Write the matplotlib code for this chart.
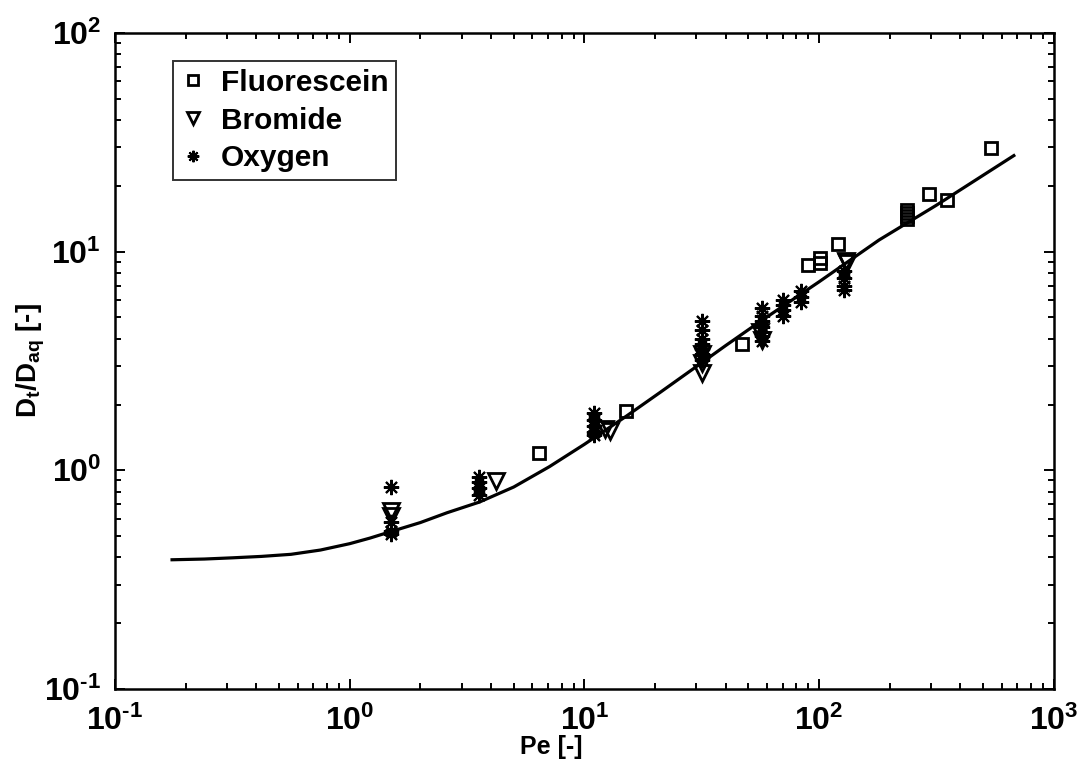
import matplotlib
matplotlib.use("Agg")
import matplotlib.pyplot as plt

plt.rcParams['font.family'] = ['Liberation Sans', 'DejaVu Sans']
plt.rcParams['font.weight'] = 'bold'
plt.rcParams['mathtext.fontset'] = 'custom'
plt.rcParams['mathtext.rm'] = 'Liberation Sans:bold'
plt.rcParams['mathtext.it'] = 'Liberation Sans:bold'
plt.rcParams['mathtext.bf'] = 'Liberation Sans:bold'

fluo_pe = [6.4, 15.1, 47, 90, 101, 101, 121, 237, 237, 237, 237, 294, 351, 539]
fluo_d = [1.2, 1.87, 3.78, 8.7, 9.4, 8.9, 10.8, 14.1, 14.6, 15.1, 15.5, 18.3, 17.3, 29.7]

brom_pe = [1.5, 1.5, 4.2, 12.3, 12.8, 31.8, 31.8, 31.8, 56, 57, 130, 132]
brom_d = [0.65, 0.62, 0.89, 1.55, 1.51, 2.8, 3.1, 3.4, 4.3, 3.95, 9.1, 8.9]

oxy_pe = [1.5, 1.5, 1.5, 1.5,
          3.57, 3.57, 3.57, 3.57,
          11, 11, 11, 11, 11,
          31.8, 31.8, 31.8, 31.8, 31.8, 31.8, 31.8,
          57, 57, 57, 57, 57, 57, 57,
          70, 70, 70, 70,
          84, 84, 84,
          128, 128, 128, 128]
oxy_d = [0.84, 0.58, 0.53, 0.51,
         0.93, 0.88, 0.83, 0.77,
         1.82, 1.70, 1.60, 1.50, 1.45,
         4.8, 4.4, 4.0, 3.8, 3.6, 3.4, 3.2,
         5.5, 5.1, 4.8, 4.5, 4.3, 4.1, 3.9,
         6.0, 5.7, 5.4, 5.1,
         6.6, 6.2, 5.9,
         8.2, 7.6, 7.0, 6.7]

# model curve, points
curve_pe = [0.175, 0.24, 0.316, 0.42, 0.562, 0.75, 1.0, 1.22, 1.5, 2.0, 2.6, 3.57, 5.0, 7.1, 10,
            15.1, 21, 28.8, 40, 55.6, 100, 180, 316, 676]
curve_d = [0.390, 0.393, 0.398, 0.404, 0.413, 0.432, 0.462, 0.49, 0.525, 0.577, 0.64, 0.716, 0.839,
           1.04, 1.315, 1.77, 2.27, 2.89, 3.72, 4.76, 7.28, 11.3, 16.3, 27.5]

x_ticks = [0.1, 1, 10, 100, 1000]
x_labels = [r'$\mathrm{10^{\text{-}1}}$', r'$\mathrm{10^{0}}$', r'$\mathrm{10^{1}}$',
            r'$\mathrm{10^{2}}$', r'$\mathrm{10^{3}}$']
y_ticks = [0.1, 1, 10, 100]
y_labels = [r'$\mathrm{10^{\text{-}1}}$', r'$\mathrm{10^{0}}$', r'$\mathrm{10^{1}}$',
            r'$\mathrm{10^{2}}$']

fig = plt.figure(figsize=(10.79, 7.6), dpi=100)
ax = fig.add_axes([0.1066, 0.0934, 0.870, 0.8632])

ax.plot(curve_pe, curve_d, color='black', lw=2.3, zorder=2)
ax.plot(fluo_pe, fluo_d, ls='none', marker='s', ms=9, mfc='none', mec='black', mew=2,
        label='Fluorescein', zorder=3)
ax.plot(brom_pe, brom_d, ls='none', marker='v', ms=12, mfc='none', mec='black', mew=2,
        label='Bromide', zorder=3)
ax.plot(oxy_pe, oxy_d, ls='none', marker=(8, 2, 0), ms=11, mfc='none', mec='black', mew=1.5,
        label='Oxygen', zorder=3)

ax.set_xscale('log')
ax.set_yscale('log')
ax.set_xlim(0.1, 1000)
ax.set_ylim(0.1, 100)
ax.set_xticks(x_ticks)
ax.set_xticklabels(x_labels)
ax.set_yticks(y_ticks)
ax.set_yticklabels(y_labels)

ax.tick_params(which='both', direction='in', top=True, right=True, width=1.4, colors='black')
ax.tick_params(which='major', length=7, labelsize=23)
ax.tick_params(axis='x', which='major', pad=12)
ax.tick_params(axis='y', which='major', pad=10)
ax.tick_params(which='minor', length=4)
for s in ax.spines.values():
    s.set_linewidth(1.8)

ax.set_xlabel('Pe [-]', fontsize=18, fontweight='bold', labelpad=0)
ax.xaxis.set_label_coords(0.465, -0.07)
ax.set_ylabel(r'$\mathrm{D_t/D_{aq}}$ [-]', fontsize=20, fontweight='bold', labelpad=-2)

leg = ax.legend(loc='upper left', bbox_to_anchor=(0.062, 0.957), borderaxespad=0,
                fontsize=21.5, frameon=True, fancybox=False, edgecolor='black',
                handlelength=0.8, handletextpad=0.55, borderpad=0.25, labelspacing=0.33,
                markerscale=0.75)
leg.get_frame().set_linewidth(1.4)

fig.savefig('out.png', dpi=100, facecolor='white')
